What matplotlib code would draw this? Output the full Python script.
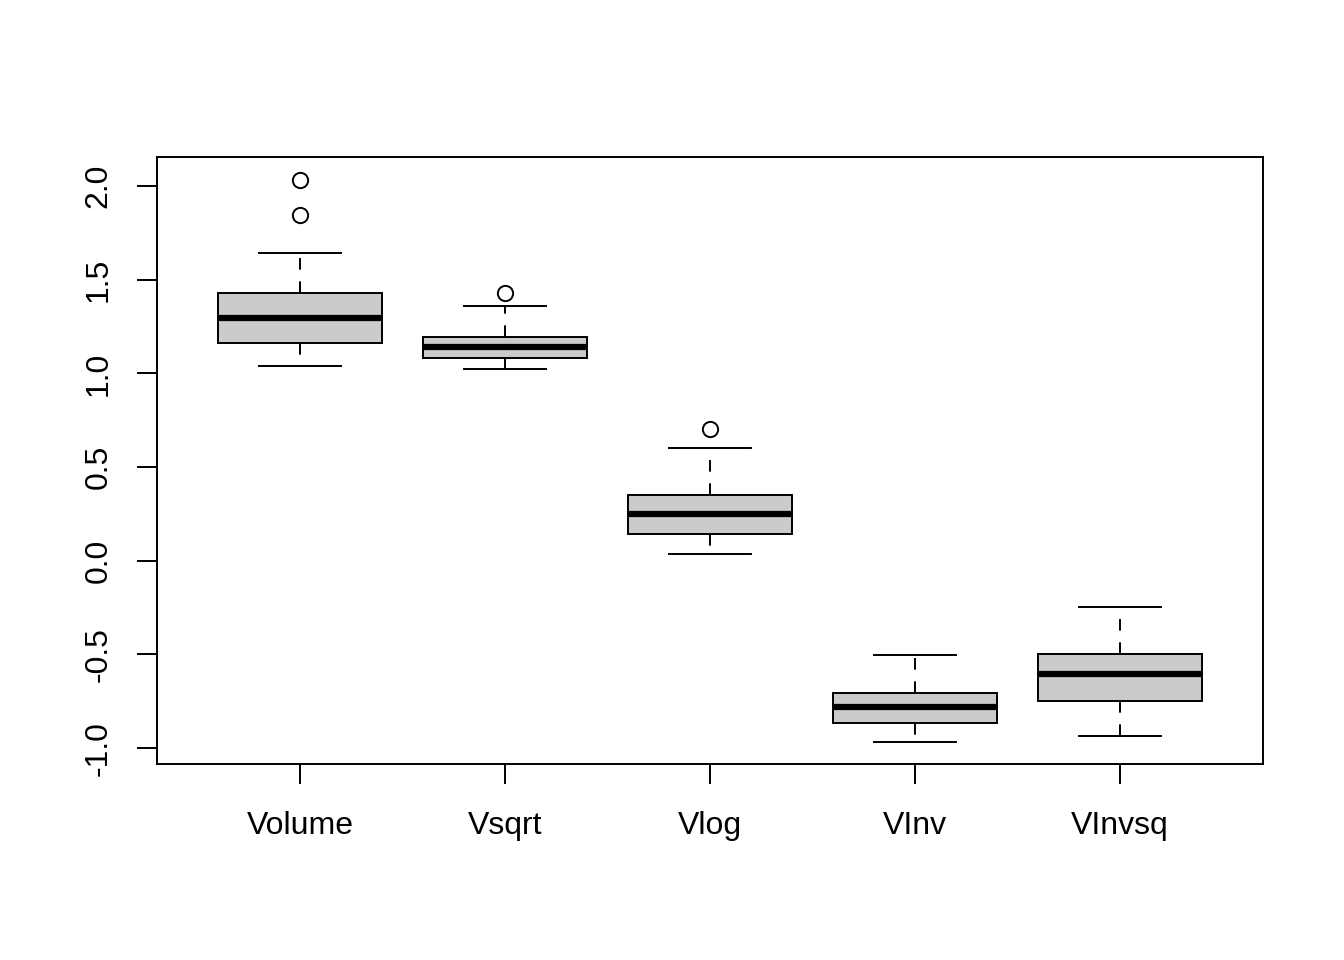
import matplotlib
matplotlib.use("Agg")
import matplotlib.pyplot as plt

plt.rcParams["font.family"] = ["Liberation Sans", "DejaVu Sans"]

# values
names = ["Volume", "Vsqrt", "Vlog", "VInv", "VInvsq"]
whislo = [1.039, 1.023, 0.037, -0.966, -0.934]
q1 = [1.162, 1.082, 0.144, -0.865, -0.747]
med = [1.295, 1.140, 0.251, -0.780, -0.603]
q3 = [1.429, 1.194, 0.352, -0.705, -0.497]
whishi = [1.642, 1.359, 0.603, -0.502, -0.246]
fliers = [[1.845, 2.032], [1.429], [0.705], [], []]

stats = []
for i in range(len(names)):
    stats.append(dict(label=names[i], whislo=whislo[i], q1=q1[i], med=med[i],
                      q3=q3[i], whishi=whishi[i], fliers=fliers[i]))

fig = plt.figure(figsize=(13.44, 9.6), dpi=100)
ax = fig.add_axes([157/1344, 1-764/960, (1263-157)/1344, (764-157)/960])

ax.bxp(stats, positions=range(1, 6), widths=0.8, patch_artist=True,
       boxprops=dict(facecolor="#cbcbcb", edgecolor="black", linewidth=1.4),
       medianprops=dict(color="black", linewidth=4.5, solid_capstyle="butt"),
       whiskerprops=dict(color="black", linewidth=1.4, linestyle=(0, (6, 6))),
       capprops=dict(color="black", linewidth=1.4),
       capwidths=0.4,
       flierprops=dict(marker="o", markerfacecolor="none", markeredgecolor="black",
                       markersize=11, markeredgewidth=1.4))

ax.set_xlim(0.3, 5.7)
ax.set_ylim(-1.085, 2.155)
ax.set_yticks([-1.0, -0.5, 0.0, 0.5, 1.0, 1.5, 2.0])
ax.set_yticklabels(["-1.0", "-0.5", "0.0", "0.5", "1.0", "1.5", "2.0"],
                   rotation=90, va="center")
ax.set_xticks(range(1, 6))
ax.set_xticklabels(names)
ax.tick_params(axis="both", length=14.4, width=1.4, labelsize=23)
ax.tick_params(axis="x", pad=19.5)
ax.tick_params(axis="y", pad=17)
for s in ax.spines.values():
    s.set_linewidth(1.4)

fig.savefig("out.png", dpi=100)
